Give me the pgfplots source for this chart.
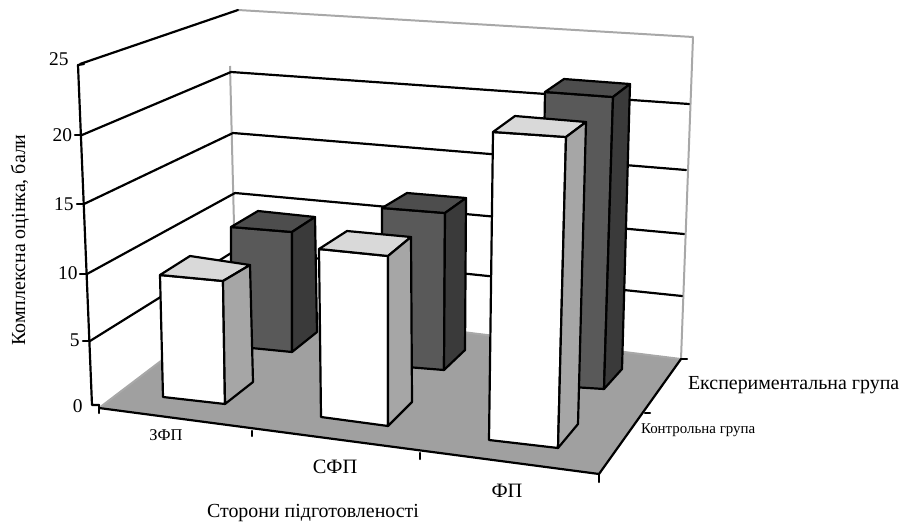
\documentclass[border=0pt]{standalone}
\usepackage{pgfplots}
\pgfplotsset{compat=1.18}
\usepackage{fontspec}
\setmainfont{Liberation Serif}
\newcommand{\fs}[1]{\fontsize{#1}{#1}\selectfont}
\definecolor{floorc}{HTML}{A0A0A0}
\definecolor{wside}{HTML}{A6A6A6}
\definecolor{wtop}{HTML}{D9D9D9}
\definecolor{dfront}{HTML}{595959}
\definecolor{dside}{HTML}{3A3A3A}
\definecolor{dtop}{HTML}{4D4D4D}
\definecolor{wallc}{HTML}{A8A8A8}
\pgfplotsset{
  blk/.style={draw=black,line width=2.2pt,line join=round,line cap=round,mark=none},
  ln/.style={draw=black,line width=2.2pt,line join=round,line cap=round,mark=none},
  gr/.style={draw=wallc,line width=2pt,line join=round,mark=none},
}
\begin{document}
\begin{tikzpicture}[x=1bp,y=1bp]
\path[use as bounding box] (0,0) rectangle (907bp,532bp);
\begin{axis}[
  at={(0bp,0bp)},anchor=south west,
  scale only axis,width=907bp,height=532bp,
  xmin=0,xmax=907,ymin=0,ymax=532,y dir=reverse,
  hide axis,clip=false,
]
% floor
\addplot[fill=floorc,draw=none,mark=none] coordinates {(99,408)(599,474)(681,359)(236,304)(99,408)};
% walls
\addplot[gr] coordinates {(99,408)(236,304)};
\addplot[gr] coordinates {(236,304)(681,359)};
\addplot[gr] coordinates {(230,66)(236,304)};
\addplot[gr] coordinates {(238,10)(693,37)(681,359)};
% left wall grid
\addplot[ln] coordinates {(80,64)(238,10)};
\addplot[ln] coordinates {(82,135)(231,72)};
\addplot[ln] coordinates {(84,204)(233,133)};
\addplot[ln] coordinates {(87,274)(235,193)};
\addplot[ln] coordinates {(90,341)(236,250)};
% back wall grid
\addplot[ln] coordinates {(231,72)(689,104)};
\addplot[ln] coordinates {(233,133)(686,170)};
\addplot[ln] coordinates {(235,193)(684,234)};
\addplot[ln] coordinates {(236,250)(682,296)};
% axis lines and ticks
\addplot[ln] coordinates {(78,65)(92,405)(99,405)};
\addplot[ln] coordinates {(99,408)(599,474)(681,359)};
\addplot[ln] coordinates {(78,65)(84,64)};
\addplot[ln] coordinates {(75,135)(81,135)};
\addplot[ln] coordinates {(77,204)(84,204)};
\addplot[ln] coordinates {(80,274)(87,274)};
\addplot[ln] coordinates {(83,341)(90,341)};
\addplot[ln] coordinates {(99,405)(99,413)};
\addplot[ln] coordinates {(252,431)(252,436)};
\addplot[ln] coordinates {(420,453)(420,459)};
\addplot[ln] coordinates {(599,474)(599,482)};
\addplot[ln] coordinates {(645,413)(650,413)};
\addplot[ln] coordinates {(681,359)(687,359)};
% dark bar 1
\addplot[blk,fill=dfront] coordinates {(231,227)(292,232)(292,352)(231,346)(231,227)};
\addplot[blk,fill=dtop] coordinates {(231,227)(292,232)(315,217)(258,211)(231,227)};
\addplot[blk,fill=dside] coordinates {(292,232)(315,217)(317,332)(292,352)(292,232)};
% dark bar 2
\addplot[blk,fill=dfront] coordinates {(382,208)(445,213)(444,370)(382,365)(382,208)};
\addplot[blk,fill=dtop] coordinates {(382,208)(445,213)(466,198)(407,193)(382,208)};
\addplot[blk,fill=dside] coordinates {(445,213)(466,198)(465,350)(444,370)(445,213)};
% dark bar 3
\addplot[blk,fill=dfront] coordinates {(545,92)(613,97)(604,389)(540,385)(545,92)};
\addplot[blk,fill=dtop] coordinates {(545,92)(613,97)(630,84)(564,79)(545,92)};
\addplot[blk,fill=dside] coordinates {(613,97)(630,84)(622,369)(604,389)(613,97)};
% white bar 1
\addplot[blk,fill=white] coordinates {(160,275)(223,281)(225,404)(163,397)(160,275)};
\addplot[blk,fill=wtop] coordinates {(160,275)(223,281)(250,265)(190,256)(160,275)};
\addplot[blk,fill=wside] coordinates {(223,281)(250,265)(253,382)(225,404)(223,281)};
% white bar 2
\addplot[blk,fill=white] coordinates {(319,249)(388,256)(388,426)(321,417)(319,249)};
\addplot[blk,fill=wtop] coordinates {(319,249)(388,256)(411,237)(347,231)(319,249)};
\addplot[blk,fill=wside] coordinates {(388,256)(411,237)(412,402)(388,426)(388,256)};
% white bar 3
\addplot[blk,fill=white] coordinates {(493,132)(566,137)(558,448)(489,440)(493,132)};
\addplot[blk,fill=wtop] coordinates {(493,132)(566,137)(586,122)(515,116)(493,132)};
\addplot[blk,fill=wside] coordinates {(566,137)(586,122)(578,424)(558,448)(566,137)};
% labels
\node[anchor=east,font=\fs{19.5}] at (axis cs:72,59) {25};
\node[anchor=east,font=\fs{19.5}] at (axis cs:75.5,135) {20};
\node[anchor=east,font=\fs{19.5}] at (axis cs:77,204) {15};
\node[anchor=east,font=\fs{19.5}] at (axis cs:81,273) {10};
\node[anchor=east,font=\fs{19.5}] at (axis cs:83,340) {5};
\node[anchor=east,font=\fs{19.5}] at (axis cs:86,406) {0};
\node[rotate=90,font=\fs{20}] at (axis cs:20,240) {Комплексна оцінка, бали};
\node[font=\fs{16.5}] at (axis cs:166,435) {ЗФП};
\node[font=\fs{20.5}] at (axis cs:335,467) {СФП};
\node[font=\fs{20.5}] at (axis cs:507,491) {ФП};
\node[font=\fs{20}] at (axis cs:313,513) {Сторони підготовленості};
\node[font=\fs{20},anchor=west] at (axis cs:684.5,385) {Експериментальна група};
\node[font=\fs{15},anchor=west] at (axis cs:637.5,430) {Контрольна група};
\end{axis}
\end{tikzpicture}
\end{document}
